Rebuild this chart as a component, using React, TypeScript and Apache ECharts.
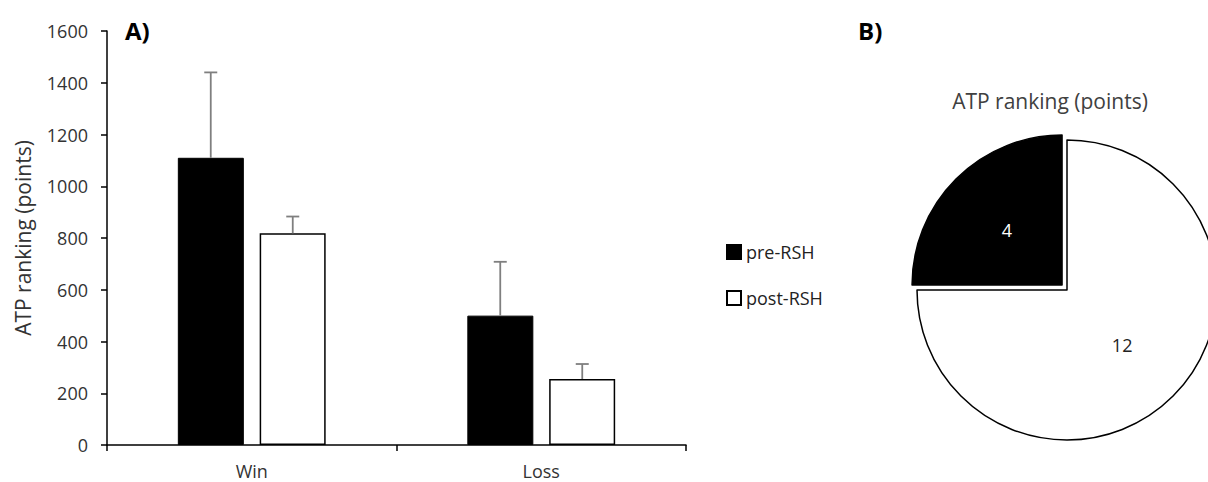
import React, { useEffect, useRef } from "react";
import * as echarts from "echarts";

const categories = ["Win", "Loss"];
const seriesNames = ["pre-RSH", "post-RSH"];
const preValues = [1110, 500];
const postValues = [818, 255];
const preErrors = [330, 208];
const postErrors = [65, 58];
const pieValues = [4, 12];
const yTicks = { min: 0, max: 1600, interval: 200 };

const FONT = "Open Sans";

export default function App() {
  const ref = useRef<HTMLDivElement>(null);
  useEffect(() => {
    document.body.style.margin = "0";
    const chart = echarts.init(ref.current!, null, { renderer: "svg" });
    const errSeries = (vals: number[], errs: number[], offset: number, name: string) => ({
      type: "custom",
      name: name + "-err",
      xAxisIndex: 0,
      yAxisIndex: 0,
      z: 5,
      data: vals.map((v, i) => [i, v, v + errs[i]]),
      renderItem: (params: any, api: any) => {
        const base = api.coord([api.value(0), api.value(1)]);
        const top = api.coord([api.value(0), api.value(2)]);
        const x = base[0] + offset;
        const st = { stroke: "#7f7f7f", lineWidth: 1.8 };
        return {
          type: "group",
          children: [
            { type: "line", shape: { x1: x, y1: base[1], x2: x, y2: top[1] }, style: st },
            { type: "line", shape: { x1: x - 6.5, y1: top[1], x2: x + 6.5, y2: top[1] }, style: st },
          ],
        };
      },
    });
    chart.setOption({
      animation: false,
      textStyle: { fontFamily: FONT },
      title: [
        { text: "A)", left: 125, top: 18, padding: 0, textStyle: { fontFamily: FONT, fontSize: 24, fontWeight: "bold", color: "#000" } },
        { text: "B)", left: 858, top: 18, padding: 0, textStyle: { fontFamily: FONT, fontSize: 24, fontWeight: "bold", color: "#000" } },
        { text: "ATP ranking (points)", left: 1050, textAlign: "center", top: 90, padding: 0, textStyle: { fontFamily: FONT, fontSize: 21, fontWeight: "normal", color: "#404040" } },
      ],
      legend: {
        orient: "vertical",
        left: 726,
        top: 243,
        padding: 0,
        itemWidth: 14,
        itemHeight: 14,
        itemGap: 28,
        icon: "rect",
        selectedMode: false,
        data: seriesNames,
        textStyle: { fontFamily: FONT, fontSize: 18, color: "#222" },
      },
      grid: { left: 107, right: 522, top: 31, bottom: 37, containLabel: false },
      xAxis: {
        type: "category",
        data: categories,
        axisLine: { lineStyle: { color: "#000", width: 1.5 } },
        axisTick: { show: true, length: 6, lineStyle: { color: "#000", width: 1.5 } },
        axisLabel: { fontFamily: FONT, fontSize: 18, color: "#333", margin: 17 },
      },
      yAxis: {
        type: "value",
        min: yTicks.min,
        max: yTicks.max,
        interval: yTicks.interval,
        name: "ATP ranking (points)",
        nameLocation: "middle",
        nameGap: 74,
        nameTextStyle: { fontFamily: FONT, fontSize: 21, color: "#333" },
        splitLine: { show: false },
        axisLine: { show: true, lineStyle: { color: "#000", width: 1.5 } },
        axisTick: { show: true, length: 6, lineStyle: { color: "#000", width: 1.5 } },
        axisLabel: { fontFamily: FONT, fontSize: 18, color: "#333", margin: 19, formatter: (v: number) => String(v) },
      },
      series: [
        {
          type: "bar",
          name: seriesNames[0],
          data: preValues,
          barWidth: 66,
          barGap: "24%",
          itemStyle: { color: "#000", borderColor: "#000", borderWidth: 1 },
        },
        {
          type: "bar",
          name: seriesNames[1],
          data: postValues,
          barWidth: 66,
          barGap: "24%",
          itemStyle: { color: "#fff", borderColor: "#000", borderWidth: 1.5 },
        },
        errSeries(preValues, preErrors, -41, seriesNames[0]),
        errSeries(postValues, postErrors, 41, seriesNames[1]),
        {
          type: "pie",
          center: [1067, 290],
          radius: 150,
          clockwise: false,
          startAngle: 90,
          selectedMode: "single",
          selectedOffset: 7,
          label: { show: true, position: "inside", fontFamily: FONT, fontSize: 18 },
          labelLine: { show: false },
          emphasis: { disabled: true },
          data: [
            {
              name: seriesNames[0],
              value: pieValues[0],
              selected: true,
              itemStyle: { color: "#000", borderColor: "#000", borderWidth: 1.5 },
              label: { color: "#fff", formatter: "{c}" },
            },
            {
              name: seriesNames[1],
              value: pieValues[1],
              itemStyle: { color: "#fff", borderColor: "#000", borderWidth: 1.5 },
              label: { color: "#222", formatter: "{c}" },
            },
          ],
        },
      ],
    });
    return () => chart.dispose();
  }, []);
  return <div ref={ref} style={{ width: 1208, height: 482 }} />;
}
